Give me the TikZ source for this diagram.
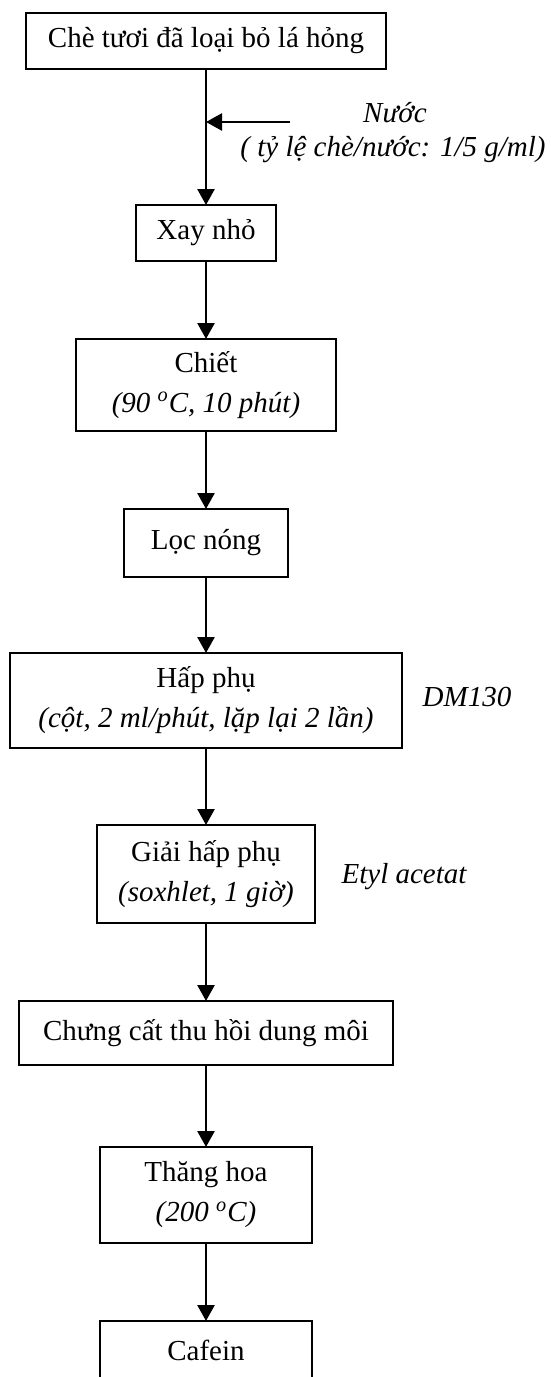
\documentclass[tikz,border=0pt]{standalone}
\usepackage{fontspec}
\setmainfont{Liberation Serif}
\usetikzlibrary{arrows.meta}
\begin{document}
\begin{tikzpicture}[x=0.5pt,y=-0.5pt,
  every node/.style={font=\fontsize{14.5}{20}\selectfont},
  box/.style={draw,line width=0.65pt,inner sep=0pt,outer sep=0pt,align=center},
  arr/.style={line width=1.3pt,-{Triangle[width=8.5pt,length=8pt]}},
  lbl/.style={inner sep=0pt,font=\fontsize{14.5}{20}\selectfont\itshape}]
\useasboundingbox (0,0) rectangle (551,1377);
\clip (0,0) rectangle (551,1377);
\node[box,minimum width=180pt,minimum height=28pt] (b1) at (206,41) {Chè tươi đã loại bỏ lá hỏng};
\node[box,minimum width=70pt,minimum height=28pt] (b2) at (206,233) {Xay nhỏ};
\node[box,minimum width=130pt,minimum height=46pt] (b3) at (206,385) {Chiết\\\textit{(90 \textsuperscript{o}C, 10 phút)}};
\node[box,minimum width=82pt,minimum height=34pt] (b4) at (206,543) {Lọc nóng};
\node[box,minimum width=196pt,minimum height=47.5pt] (b5) at (206,700.5) {Hấp phụ\\\textit{(cột, 2 ml/phút, lặp lại 2 lần)}};
\node[box,minimum width=109pt,minimum height=49pt] (b6) at (206,874) {Giải hấp phụ\\\textit{(soxhlet, 1 giờ)}};
\node[box,minimum width=187pt,minimum height=32pt] (b7) at (206,1033) {Chưng cất thu hồi dung môi};
\node[box,minimum width=106pt,minimum height=48pt] (b8) at (206,1195) {Thăng hoa\\\textit{(200 \textsuperscript{o}C)}};
\node[box,minimum width=106pt,minimum height=40pt,anchor=north] (b9) at (206,1321) {};
\node (t9) at (206,1350) {Cafein};
\node[lbl] (nuoc) at (395,113) {Nước};
\node[lbl] (tyle) at (393,150) {( tỷ lệ chè/nước: 1/5 g/ml)};
\node[lbl] (dm) at (467,697) {DM130};
\node[lbl] (etyl) at (404,877) {Etyl acetat};
\coordinate (wsrc) at (290,122);
\draw[arr] (b1.south) -- (b2.north);
\draw[arr] (wsrc) -- (wsrc -| b1.south);
\draw[arr] (b2.south) -- (b3.north);
\draw[arr] (b3.south) -- (b4.north);
\draw[arr] (b4.south) -- (b5.north);
\draw[arr] (b5.south) -- (b6.north);
\draw[arr] (b6.south) -- (b7.north);
\draw[arr] (b7.south) -- (b8.north);
\draw[arr] (b8.south) -- (b9.north);
\end{tikzpicture}
\end{document}
